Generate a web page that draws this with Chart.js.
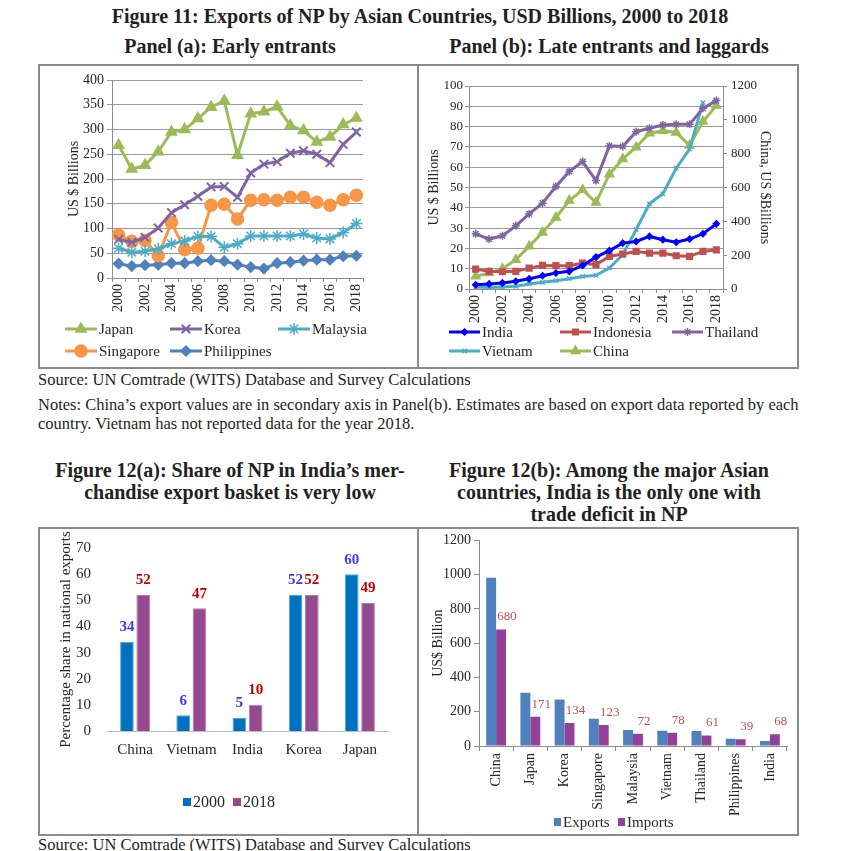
<!DOCTYPE html>
<html>
<head>
<meta charset="utf-8">
<script src="https://cdn.jsdelivr.net/npm/chart.js@4.4.0/dist/chart.umd.min.js"></script>
<style>
  body { margin: 0; width: 862px; height: 851px; background: #fff; position: relative; overflow: hidden;
         font-family: "Liberation Serif", serif; color: #231f20; }
  .h { position: absolute; font-weight: bold; font-size: 20px; line-height: 22px; white-space: nowrap;
       transform: translateX(-50%); }
  .s { position: absolute; font-size: 17px; line-height: 19px; white-space: nowrap;
       transform-origin: left center; transform: scaleX(0.97); }
  .box { position: absolute; border: 2px solid #8a8a8a; box-sizing: border-box; }
  .div { position: absolute; width: 2px; background: #8a8a8a; }
  canvas { position: absolute; }
</style>
</head>
<body>
<div class="h" style="left:420px; top:5px;">Figure 11: Exports of NP by Asian Countries, USD Billions, 2000 to 2018</div>
<div class="h" style="left:230px; top:35px;">Panel (a): Early entrants</div>
<div class="h" style="left:609px; top:35px;">Panel (b): Late entrants and laggards</div>

<div class="box" style="left:38px; top:64px; width:761px; height:305px;"></div>
<div class="div" style="left:417px; top:64px; height:305px;"></div>
<canvas id="panelA" width="376" height="300" style="left:40px; top:66px;"></canvas>
<canvas id="panelB" width="376" height="300" style="left:420px; top:66px;"></canvas>

<div class="s" style="left:38px; top:370px;">Source: UN Comtrade (WITS) Database and Survey Calculations</div>
<div class="s" style="left:38px; top:395px;">Notes: China’s export values are in secondary axis in Panel(b). Estimates are based on export data reported by each</div>
<div class="s" style="left:38px; top:414px;">country. Vietnam has not reported data for the year 2018.</div>

<div class="h" style="left:230px; top:459px;">Figure 12(a): Share of NP in India’s mer-</div>
<div class="h" style="left:230px; top:481px;">chandise export basket is very low</div>
<div class="h" style="left:609px; top:459px;">Figure 12(b): Among the major Asian</div>
<div class="h" style="left:609px; top:481px;">countries, India is the only one with</div>
<div class="h" style="left:609px; top:503px;">trade deficit in NP</div>

<div class="box" style="left:38px; top:527px; width:761px; height:309px;"></div>
<div class="div" style="left:417px; top:527px; height:309px;"></div>
<canvas id="fig12a" width="376" height="304" style="left:40px; top:529px;"></canvas>
<canvas id="fig12b" width="376" height="304" style="left:420px; top:529px;"></canvas>

<div class="s" style="left:38px; top:835px;">Source: UN Comtrade (WITS) Database and Survey Calculations</div>

<script>
// --- Data ---
const years = ['2000', '2001', '2002', '2003', '2004', '2005', '2006', '2007', '2008', '2009',
               '2010', '2011', '2012', '2013', '2014', '2015', '2016', '2017', '2018'];

// Panel (a): early entrants, US $ billions
const japan       = [268, 220, 228, 255, 295, 300, 322, 345, 358, 248, 332, 336, 346, 308, 298, 275, 285, 310, 323];
const korea       = [78, 72, 82, 101, 132, 148, 165, 184, 185, 163, 212, 230, 235, 252, 257, 250, 233, 270, 295];
const malaysia    = [60, 52, 54, 59, 69, 75, 84, 84, 62, 69, 85, 85, 85, 85, 89, 81, 79, 92, 110];
const singapore   = [87, 74, 76, 45, 112, 57, 60, 147, 149, 119, 157, 158, 157, 163, 163, 153, 147, 158, 167];
const philippines = [29, 24, 26, 27, 30, 30, 34, 36, 34, 27, 22, 19, 30, 32, 35, 37, 37, 44, 45];

// Panel (b): late entrants, US $ billions (China on secondary axis)
const india     = [2.1, 2.5, 3.0, 3.8, 5.0, 6.5, 7.9, 8.7, 11.6, 15.7, 18.9, 22.6, 23.4, 25.9, 24.3, 23.0, 24.6, 27.2, 32.1];
const indonesia = [9.8, 8.7, 8.5, 8.7, 10.3, 11.6, 11.5, 11.5, 12.8, 12.0, 16.1, 17.2, 18.5, 17.7, 17.7, 16.4, 16.1, 18.5, 19.3];
const thailand  = [27.2, 24.6, 26.2, 31.1, 37.0, 42.3, 50.5, 57.9, 62.8, 53.4, 70.5, 70.2, 77.5, 79.2, 80.8, 81.1, 81.1, 89.0, 92.8];
const vietnam   = [1.0, 0.8, 1.0, 1.3, 2.5, 3.3, 4.1, 5.1, 6.2, 6.7, 10.3, 16.9, 29.2, 42.0, 46.9, 59.5, 68.9, 91.8, null];
const china     = [75, 94, 120, 173, 252, 334, 423, 523, 586, 511, 679, 769, 838, 921, 936, 925, 848, 990, 1084];

// Figure 12(a): share of NP in national exports, %
const shareCountries = ['China', 'Vietnam', 'India', 'Korea', 'Japan'];
const share2000 = [34, 6, 5, 52, 60];
const share2018 = [52, 47, 10, 52, 49];

// Figure 12(b): NP trade, US$ billion
const tradeCountries = ['China', 'Japan', 'Korea', 'Singapore', 'Malaysia', 'Vietnam', 'Thailand', 'Philippines', 'India'];
const npExports = [982, 311, 272, 159, 93, 89, 88, 43, 29];
const npImports = [680, 171, 134, 123, 72, 78, 61, 39, 68];

const yTicksA  = { min: 0, max: 400, step: 50 };
const yTicksB  = { min: 0, max: 100, step: 10 };
const y2TicksB = { min: 0, max: 1200, step: 200 };
const yTicks12a = { min: 0, max: 70, step: 10 };
const yTicks12b = { min: 0, max: 1200, step: 200 };

// --- Setup ---
const SERIF = '"Liberation Serif", "Times New Roman", serif';
Chart.defaults.font.family = SERIF;
Chart.defaults.color = '#262626';
const AXIS = '#8c8c8c';
const TXT = '#262626';
const f = (size, weight) => ({ family: SERIF, size: size, weight: weight || 'normal' });
const plain = v => String(v);   // no thousands separator

// Legend drawn in a fixed grid, line + marker like the spreadsheet legend
const gridLegend = {
    id: 'gridLegend',
    afterDraw(chart, args, opts) {
        if (!opts.items) return;
        const ctx = chart.ctx;
        ctx.save();
        ctx.font = opts.font;
        ctx.textBaseline = 'middle';
        opts.items.forEach(it => {
            const ds = chart.data.datasets[it.index];
            if (opts.kind === 'line') {
                ctx.strokeStyle = ds.borderColor;
                ctx.lineWidth = ds.borderWidth;
                ctx.beginPath();
                ctx.moveTo(it.x, it.y);
                ctx.lineTo(it.x + opts.lineLen, it.y);
                ctx.stroke();
                ctx.fillStyle = ds.pointBackgroundColor;
                ctx.strokeStyle = ds.pointBorderColor;
                ctx.lineWidth = ds.pointBorderWidth;
                Chart.helpers.drawPoint(ctx, {
                    pointStyle: ds.pointStyle, radius: ds.pointRadius, rotation: 0, borderWidth: ds.pointBorderWidth
                }, it.x + opts.lineLen / 2, it.y);
            } else {
                ctx.fillStyle = ds.backgroundColor;
                ctx.fillRect(it.x, it.y - 4, opts.lineLen, 8);
            }
            ctx.fillStyle = opts.color;
            ctx.fillText(ds.label, it.x + opts.lineLen + 2, it.y + 1);
        });
        ctx.restore();
    }
};

// Value labels above bars
const valueLabels = {
    id: 'valueLabels',
    afterDatasetsDraw(chart, args, opts) {
        if (!opts.sets) return;
        const ctx = chart.ctx;
        opts.sets.forEach(s => {
            const meta = chart.getDatasetMeta(s.index);
            const values = chart.data.datasets[s.index].data;
            ctx.save();
            ctx.font = s.font;
            ctx.fillStyle = s.color;
            ctx.textAlign = 'center';
            ctx.textBaseline = 'bottom';
            meta.data.forEach((bar, i) => {
                ctx.fillText(String(values[i]), bar.x + (s.dx || 0), bar.y - s.dy);
            });
            ctx.restore();
        });
    }
};

Chart.register(gridLegend, valueLabels);

function lineSet(label, data, color, style, radius, extra) {
    return Object.assign({
        label: label,
        data: data,
        borderColor: color,
        backgroundColor: color,
        borderWidth: 3,
        pointStyle: style,
        pointRadius: radius,
        pointBackgroundColor: color,
        pointBorderColor: color,
        pointBorderWidth: 1.5,
        tension: 0,
        spanGaps: false
    }, extra || {});
}

// --- Panel (a) ---
new Chart(document.getElementById('panelA'), {
    type: 'line',
    data: {
        labels: years,
        datasets: [
            lineSet('Japan', japan, '#9bbb59', 'triangle', 6),
            lineSet('Korea', korea, '#8064a2', 'crossRot', 6, { pointBorderWidth: 2 }),
            lineSet('Malaysia', malaysia, '#4bacc6', 'star', 6, { pointBorderWidth: 1.5 }),
            lineSet('Singapore', singapore, '#f79646', 'circle', 6),
            lineSet('Philippines', philippines, '#4f81bd', 'rectRot', 5)
        ]
    },
    options: {
        responsive: false,
        animation: false,
        layout: { padding: { left: 22, top: 14, right: 53, bottom: 52 } },
        plugins: {
            legend: { display: false },
            tooltip: { enabled: false },
            gridLegend: {
                kind: 'line', lineLen: 32, font: '15px ' + SERIF, color: TXT,
                items: [
                    { index: 0, x: 25, y: 263 }, { index: 1, x: 130, y: 263 }, { index: 2, x: 238, y: 263 },
                    { index: 3, x: 25, y: 285 }, { index: 4, x: 130, y: 285 }
                ]
            }
        },
        scales: {
            x: {
                offset: true,
                afterFit(scale) { scale.height = 36; },
                grid: { offset: true, drawOnChartArea: false, color: AXIS, tickLength: 4 },
                border: { color: AXIS },
                ticks: {
                    autoSkip: false, minRotation: 90, maxRotation: 90, padding: 2,
                    font: f(14), color: TXT,
                    callback: (v, i) => (i % 2 === 0 ? years[i] : '')
                }
            },
            y: {
                min: yTicksA.min, max: yTicksA.max,
                afterFit(scale) { scale.width = 50; },
                grid: { color: '#9a9a9a', tickLength: 5 },
                border: { color: AXIS },
                ticks: { stepSize: yTicksA.step, padding: 3, font: f(14), color: TXT, callback: plain },
                title: { display: true, text: 'US $ Billions', font: f(14), color: TXT, padding: 4 }
            }
        }
    }
});

// --- Panel (b) ---
new Chart(document.getElementById('panelB'), {
    type: 'line',
    data: {
        labels: years,
        datasets: [
            lineSet('India', india, '#0000ff', 'rectRot', 3),
            lineSet('Indonesia', indonesia, '#c0504d', 'rect', 4),
            lineSet('Thailand', thailand, '#8064a2', 'star', 4),
            lineSet('Vietnam', vietnam, '#4bacc6', 'crossRot', 3),
            lineSet('China', china, '#9bbb59', 'triangle', 5, { yAxisID: 'y1' })
        ]
    },
    options: {
        responsive: false,
        animation: false,
        layout: { padding: { left: 2, top: 20, right: 20, bottom: 41 } },
        plugins: {
            legend: { display: false },
            tooltip: { enabled: false },
            gridLegend: {
                kind: 'line', lineLen: 31, font: '15px ' + SERIF, color: TXT,
                items: [
                    { index: 0, x: 29, y: 266 }, { index: 1, x: 140, y: 266 }, { index: 2, x: 252, y: 266 },
                    { index: 3, x: 29, y: 285 }, { index: 4, x: 140, y: 285 }
                ]
            }
        },
        scales: {
            x: {
                offset: true,
                afterFit(scale) { scale.height = 36; },
                grid: { offset: true, drawOnChartArea: false, color: AXIS, tickLength: 4 },
                border: { color: AXIS },
                ticks: {
                    autoSkip: false, minRotation: 90, maxRotation: 90, padding: 2,
                    font: f(14), color: TXT,
                    callback: (v, i) => (i % 2 === 0 ? years[i] : '')
                }
            },
            y: {
                min: yTicksB.min, max: yTicksB.max,
                afterFit(scale) { scale.width = 47; },
                grid: { color: '#9a9a9a', tickLength: 4 },
                border: { color: AXIS },
                ticks: { stepSize: yTicksB.step, padding: 2, font: f(13), color: TXT, callback: plain },
                title: { display: true, text: 'US $ Billions', font: f(14), color: TXT, padding: 4 }
            },
            y1: {
                position: 'right',
                min: y2TicksB.min, max: y2TicksB.max,
                afterFit(scale) { scale.width = 53; },
                grid: { drawOnChartArea: false, color: AXIS, tickLength: 4 },
                border: { color: AXIS },
                ticks: { stepSize: y2TicksB.step, padding: 4, font: f(13), color: TXT, callback: plain },
                title: { display: true, text: 'China, US $Billions', font: f(14), color: TXT, padding: 3 }
            }
        }
    }
});

// --- Figure 12(a) ---
new Chart(document.getElementById('fig12a'), {
    type: 'bar',
    data: {
        labels: shareCountries,
        datasets: [
            { label: '2000', data: share2000, backgroundColor: '#0070c0', borderColor: '#4bacc6', borderWidth: 1,
              categoryPercentage: 0.58, barPercentage: 0.84 },
            { label: '2018', data: share2018, backgroundColor: '#954a8f', borderColor: '#b27aad', borderWidth: 1,
              categoryPercentage: 0.58, barPercentage: 0.84 }
        ]
    },
    options: {
        responsive: false,
        animation: false,
        layout: { padding: { left: 13, top: 19, right: 28, bottom: 62 } },
        plugins: {
            legend: { display: false },
            tooltip: { enabled: false },
            gridLegend: {
                kind: 'box', lineLen: 8, font: '16px ' + SERIF, color: TXT,
                items: [{ index: 0, x: 143, y: 273 }, { index: 1, x: 193, y: 273 }]
            },
            valueLabels: {
                sets: [
                    { index: 0, color: '#3b3bf0', font: 'bold 15px ' + SERIF, dy: 7 },
                    { index: 1, color: '#c00000', font: 'bold 15px ' + SERIF, dy: 7 }
                ]
            }
        },
        scales: {
            x: {
                afterFit(scale) { scale.height = 40; },
                grid: { display: false },
                border: { color: '#bfbfbf' },
                ticks: { autoSkip: false, minRotation: 0, maxRotation: 0, padding: 2, font: f(15), color: TXT }
            },
            y: {
                min: yTicks12a.min, max: yTicks12a.max,
                afterFit(scale) { scale.width = 54; },
                grid: { display: false },
                border: { display: false },
                ticks: { stepSize: yTicks12a.step, padding: 8, font: f(15), color: TXT, callback: plain },
                title: { display: true, text: 'Percentage share in national exports', font: f(15), color: TXT, padding: 4 }
            }
        }
    }
});

// --- Figure 12(b) ---
new Chart(document.getElementById('fig12b'), {
    type: 'bar',
    data: {
        labels: tradeCountries,
        datasets: [
            { label: 'Exports', data: npExports, backgroundColor: '#4f81bd', borderWidth: 0,
              categoryPercentage: 0.58, barPercentage: 1.0 },
            { label: 'Imports', data: npImports, backgroundColor: '#93409a', borderWidth: 0,
              categoryPercentage: 0.58, barPercentage: 1.0 }
        ]
    },
    options: {
        responsive: false,
        animation: false,
        layout: { padding: { left: 6, top: 11, right: 9, bottom: 17 } },
        plugins: {
            legend: { display: false },
            tooltip: { enabled: false },
            gridLegend: {
                kind: 'box', lineLen: 7, font: '15px ' + SERIF, color: TXT,
                items: [{ index: 0, x: 134, y: 293 }, { index: 1, x: 198, y: 293 }]
            },
            valueLabels: {
                sets: [{ index: 1, color: '#c0504d', font: '13px ' + SERIF, dy: 6, dx: 6 }]
            }
        },
        scales: {
            x: {
                afterFit(scale) { scale.height = 70; },
                grid: { offset: true, drawOnChartArea: false, color: AXIS, tickLength: 5 },
                border: { color: AXIS },
                ticks: { autoSkip: false, minRotation: 90, maxRotation: 90, padding: 2, font: f(14), color: TXT }
            },
            y: {
                min: yTicks12b.min, max: yTicks12b.max,
                afterFit(scale) { scale.width = 53; },
                grid: { drawOnChartArea: false, color: AXIS, tickLength: 5 },
                border: { color: AXIS },
                ticks: { stepSize: yTicks12b.step, padding: 3, font: f(14), color: TXT, callback: plain },
                title: { display: true, text: 'US$ Billion', font: f(14), color: TXT, padding: 4 }
            }
        }
    }
});
</script>
</body>
</html>
